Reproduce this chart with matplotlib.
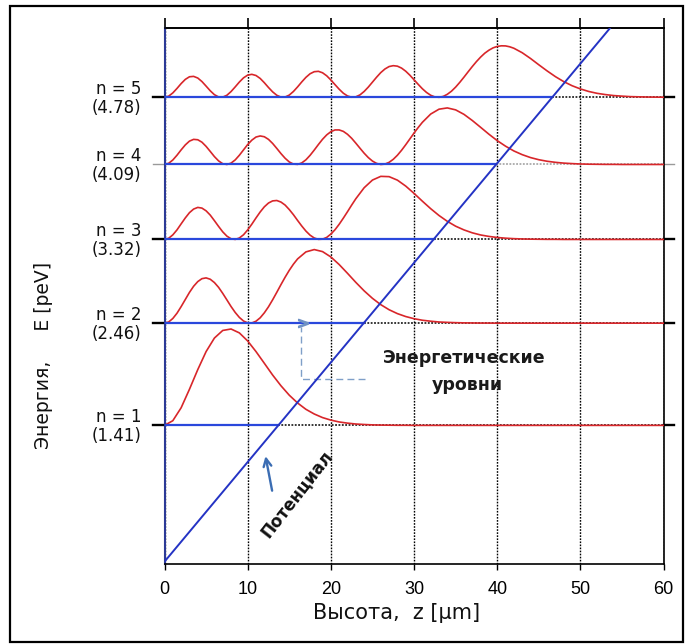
import numpy as np
import matplotlib
matplotlib.use("Agg")
import matplotlib.pyplot as plt
from matplotlib.patches import Rectangle

plt.rcParams['font.family'] = ['DejaVu Sans']

# ---------------- data ----------------
level_n = [1, 2, 3, 4, 5]
level_E = [1.41, 2.46, 3.32, 4.09, 4.78]          # peV
level_val_text = ['(1.41)', '(2.46)', '(3.32)', '(4.09)', '(4.78)']

pot_z = [0, 60]          # µm
pot_E = [0.01, 6.15]     # peV

# sample heights z (µm) of each |psi|^2 curve: 0.5 µm steps in the oscillating part, 1 µm after
z_1 = np.arange(0, 31, 1.0)
z_2 = np.r_[np.arange(0, 16.01, 0.5), np.arange(17, 41, 1.0)]
z_3 = np.r_[np.arange(0, 23.01, 0.5), np.arange(24, 49, 1.0)]
z_4 = np.r_[np.arange(0, 31.01, 0.5), np.arange(32, 56, 1.0)]
z_5 = np.r_[np.arange(0, 42.01, 0.5), np.arange(43, 61, 1.0)]

# probability density (drawn in peV above each level)
dens_1 = [0.000, 0.048, 0.181, 0.371, 0.573, 0.758, 0.897, 0.975, 0.990, 0.950,
          0.867, 0.758, 0.638, 0.517, 0.407, 0.310, 0.230, 0.165, 0.117, 0.080,
          0.054, 0.035, 0.023, 0.014, 0.009, 0.005, 0.003, 0.002, 0.001, 0.001,
          0.000]
dens_2 = [0.000, 0.012, 0.048, 0.102, 0.170, 0.243, 0.316, 0.379, 0.427, 0.457,
          0.465, 0.451, 0.417, 0.368, 0.306, 0.239, 0.171, 0.110, 0.059, 0.022,
          0.003, 0.002, 0.020, 0.055, 0.106, 0.168, 0.240, 0.317, 0.396, 0.472,
          0.543, 0.606, 0.660,
          0.732, 0.756, 0.735, 0.680, 0.602, 0.512, 0.419, 0.332, 0.255, 0.190,
          0.138, 0.098, 0.068, 0.046, 0.030, 0.020, 0.012, 0.008, 0.005, 0.003,
          0.002, 0.001, 0.001, 0.000]
dens_3 = [0.000, 0.012, 0.047, 0.098, 0.160, 0.221, 0.275, 0.312, 0.329, 0.322,
          0.294, 0.250, 0.193, 0.134, 0.078, 0.034, 0.007, 0.000, 0.015, 0.048,
          0.098, 0.157, 0.221, 0.282, 0.335, 0.374, 0.396, 0.400, 0.384, 0.353,
          0.307, 0.254, 0.195, 0.138, 0.086, 0.044, 0.015, 0.001, 0.003, 0.021,
          0.055, 0.100, 0.156, 0.219, 0.285, 0.353, 0.418,
          0.531, 0.610, 0.648, 0.645, 0.609, 0.548, 0.473, 0.393, 0.316, 0.246,
          0.186, 0.136, 0.098, 0.068, 0.046, 0.031, 0.020, 0.013, 0.008, 0.005,
          0.003, 0.002, 0.001, 0.001, 0.000]
dens_4 = [0.000, 0.012, 0.046, 0.095, 0.150, 0.201, 0.240, 0.258, 0.254, 0.229,
          0.186, 0.134, 0.081, 0.037, 0.008, 0.000, 0.014, 0.047, 0.095, 0.150,
          0.205, 0.250, 0.282, 0.293, 0.285, 0.258, 0.216, 0.165, 0.112, 0.064,
          0.026, 0.004, 0.001, 0.016, 0.048, 0.094, 0.148, 0.205, 0.259, 0.304,
          0.337, 0.355, 0.355, 0.340, 0.310, 0.269, 0.219, 0.167, 0.116, 0.071,
          0.035, 0.011, 0.000, 0.004, 0.022, 0.053, 0.095, 0.146, 0.203, 0.263,
          0.323, 0.380, 0.433,
          0.518, 0.568, 0.581, 0.561, 0.515, 0.452, 0.382, 0.311, 0.245, 0.188,
          0.139, 0.101, 0.071, 0.049, 0.033, 0.022, 0.014, 0.009, 0.005, 0.003,
          0.002, 0.001, 0.001, 0.000]
dens_5 = [0.000, 0.012, 0.045, 0.091, 0.141, 0.184, 0.211, 0.215, 0.198, 0.162,
          0.115, 0.067, 0.027, 0.004, 0.002, 0.021, 0.059, 0.107, 0.157, 0.200,
          0.228, 0.236, 0.224, 0.194, 0.150, 0.101, 0.056, 0.021, 0.002, 0.003,
          0.023, 0.060, 0.107, 0.158, 0.205, 0.242, 0.263, 0.267, 0.252, 0.221,
          0.178, 0.130, 0.083, 0.042, 0.014, 0.001, 0.005, 0.025, 0.060, 0.105,
          0.156, 0.207, 0.254, 0.291, 0.316, 0.325, 0.320, 0.300, 0.268, 0.227,
          0.180, 0.133, 0.088, 0.050, 0.021, 0.004, 0.000, 0.009, 0.031, 0.063,
          0.105, 0.154, 0.207, 0.262, 0.316, 0.367, 0.413, 0.453, 0.484, 0.508,
          0.523, 0.529, 0.528, 0.519, 0.504,
          0.458, 0.399, 0.334, 0.271, 0.212, 0.161, 0.119, 0.086, 0.060, 0.041,
          0.028, 0.018, 0.012, 0.007, 0.005, 0.003, 0.002, 0.001]
z_samples = [z_1, z_2, z_3, z_4, z_5]
densities = [dens_1, dens_2, dens_3, dens_4, dens_5]

x_ticks = [0, 10, 20, 30, 40, 50, 60]
x_ticklabels = ['0', '10', '20', '30', '40', '50', '60']

# ---------------- styles ----------------
RED = '#d8262a'
BLUE_LVL = '#2a48dc'
BLUE_POT = '#2433c4'
W, H = 686, 644

fig = plt.figure(figsize=(W / 100, H / 100), dpi=100)
ax = fig.add_axes([164.5 / W, 1 - 564 / H, (663.6 - 164.5) / W, (564 - 28) / H])
ax.set_xlim(0, 60)
ax.set_ylim(-0.014, 5.492)

ax.set_xticks(x_ticks)
ax.set_xticklabels(x_ticklabels, fontfamily='Liberation Sans', fontsize=13)
ax.grid(axis='x', color='black', linestyle=(0, (1.2, 1.0)), linewidth=1.0, zorder=1)
ax.set_axisbelow(True)
ax.set_yticks([])
ax.tick_params(axis='x', direction='out', length=4, width=1.0, pad=8.5, colors='black')

for side in ['top', 'right', 'bottom']:
    ax.spines[side].set_color('black')
    ax.spines[side].set_linewidth(1.2)
ax.spines['left'].set_color('#2c3a96')
ax.spines['left'].set_linewidth(1.5)

sec = ax.secondary_xaxis('top')
sec.set_xticks(x_ticks)
sec.tick_params(axis='x', direction='out', length=7, width=1.2, labeltop=False)
sec.spines['top'].set_linewidth(1.2)

for n, E, zs, d, vtxt in zip(level_n, level_E, z_samples, densities, level_val_text):
    assert len(zs) == len(d)
    z_turn = np.interp(E, pot_E, pot_z)
    kc = '#9a9a9a' if n == 4 else 'black'
    klw = 1.0 if n == 4 else 1.7
    ax.plot([z_turn, 60], [E, E], color=kc, linestyle=(0, (1.2, 1.0)),
            linewidth=1.1, zorder=2)
    ax.plot([-1.4, 0], [E, E], color=kc, linewidth=klw, clip_on=False, zorder=2)
    ax.plot([60, 61.3], [E, E], color=kc, linewidth=klw, clip_on=False, zorder=2)

    z = np.asarray(zs, dtype=float)
    y = np.asarray(d) + E
    if z[-1] < 60:
        z = np.append(z, 60)
        y = np.append(y, E)
    ax.plot(z, y, color=RED, linewidth=1.2, zorder=3, solid_joinstyle='round')

    ax.plot([0, z_turn], [E, E], color=BLUE_LVL, linewidth=1.6, zorder=4)

    ax.text(-2.8, E + 0.034, f'n = {n}', ha='right', va='baseline',
            fontsize=12, color='#111111', clip_on=False)
    ax.text(-2.8, E - 0.018, vtxt, ha='right', va='top',
            fontsize=12, color='#111111', clip_on=False)

# potential
ax.plot(pot_z, pot_E, color=BLUE_POT, linewidth=1.4, zorder=5)

# annotations
ax.text(36.05, 2.05, 'Энергетические', ha='center', va='baseline',
        fontsize=12.5, fontweight='bold', color='#1a1a1a', zorder=6)
ax.text(36.4, 1.773, 'уровни', ha='center', va='baseline',
        fontsize=12.5, fontweight='bold', color='#1a1a1a', zorder=6)
ax.plot([24.1, 16.37, 16.37], [1.886, 1.886, 2.42], color='#7f9fc8',
        linestyle=(0, (5, 3)), linewidth=1.0, zorder=3)
ax.plot([16.6], [2.46], marker='$>$', markersize=7, color='#6f92c4', zorder=6)

ax.text(15.93, 0.704, 'Потенциал', ha='center', va='center', rotation=52,
        rotation_mode='anchor', fontsize=12, fontweight='bold', color='#111111',
        zorder=6)
ax.annotate('', xy=(12.08, 1.122), xytext=(13.0, 0.711),
            arrowprops=dict(arrowstyle='->', color='#3b6db3', lw=1.7,
                            mutation_scale=14), zorder=6)

# axis labels
fig.text(397 / W, 1 - 613 / H, 'Высота,  z [µm]', ha='center', va='center',
         fontsize=15, color='#111111')
fig.text(44 / W, 1 - 355 / H, 'Энергия,     E [peV]', ha='center', va='center',
         rotation=90, fontsize=13.5, color='#111111')

# outer frame
fig.patches.append(Rectangle((10 / W, 1 - 642 / H), (683 - 10) / W, (642 - 6) / H,
                             transform=fig.transFigure, fill=False,
                             edgecolor='black', linewidth=1.6))

fig.savefig('out.png', dpi=100)
